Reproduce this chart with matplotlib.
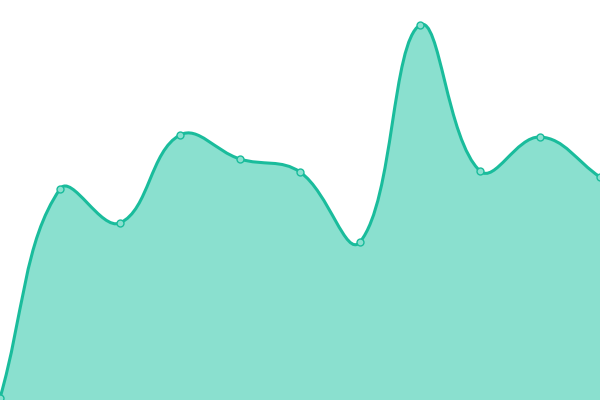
import numpy as np
import matplotlib
matplotlib.use("Agg")
import matplotlib.pyplot as plt
from matplotlib.path import Path
from matplotlib.patches import PathPatch

categories = list(range(11))
values = [2, 211, 177, 265, 241, 228, 158, 375, 229, 263, 223]

LINE = "#1abc9c"
FILL = "#8ae0cf"
TENSION = 0.4

fig = plt.figure(figsize=(6, 4), dpi=100)
ax = fig.add_axes([0, 0, 1, 1])
ax.set_xlim(0, 10)
ax.set_ylim(0, 400)
ax.axis("off")

# work in display (pixel) space, as the original spline does
pts = ax.transData.transform(np.column_stack([categories, values]))
n = len(pts)
cp_prev = pts.copy()
cp_next = pts.copy()
for i in range(n):
    prev = pts[i - 1] if i > 0 else pts[i]
    nxt = pts[i + 1] if i < n - 1 else pts[i]
    d01 = np.hypot(*(pts[i] - prev))
    d12 = np.hypot(*(nxt - pts[i]))
    tot = d01 + d12
    s01 = d01 / tot if tot else 0
    s12 = d12 / tot if tot else 0
    cp_prev[i] = pts[i] - TENSION * s01 * (nxt - prev)
    cp_next[i] = pts[i] + TENSION * s12 * (nxt - prev)

verts = [pts[0]]
codes = [Path.MOVETO]
for i in range(n - 1):
    verts += [cp_next[i], cp_prev[i + 1], pts[i + 1]]
    codes += [Path.CURVE4] * 3
inv = ax.transData.inverted()
verts_d = inv.transform(np.array(verts))

line_path = Path(verts_d, codes)
fill_verts = np.vstack([verts_d, [[categories[-1], 0], [categories[0], 0], verts_d[0]]])
fill_codes = codes + [Path.LINETO, Path.LINETO, Path.CLOSEPOLY]
ax.add_patch(PathPatch(Path(fill_verts, fill_codes), facecolor=FILL, edgecolor="none"))
ax.add_patch(PathPatch(line_path, facecolor="none", edgecolor=LINE, linewidth=2.2,
                       capstyle="round", joinstyle="round"))
ax.plot(categories, values, linestyle="none", marker="o", markersize=5,
        markerfacecolor=FILL, markeredgecolor=LINE, markeredgewidth=1, zorder=5)
fig.savefig("out.png", dpi=100)
